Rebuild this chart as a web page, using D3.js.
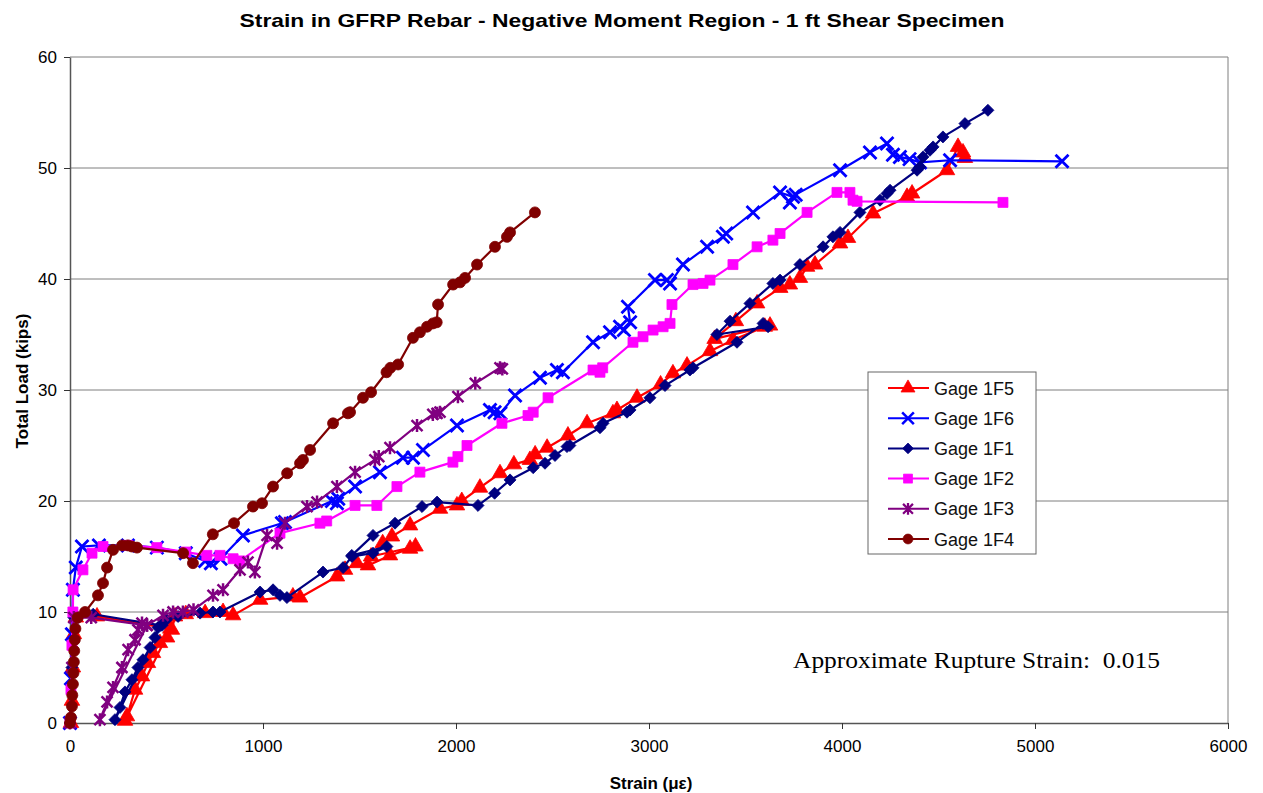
<!DOCTYPE html>
<html>
<head>
<meta charset="utf-8">
<script src="https://cdn.jsdelivr.net/npm/d3@7"></script>
<style>
  html, body { margin: 0; padding: 0; background: #fff; }
  svg { display: block; font-family: "Liberation Sans", Arial, sans-serif; }
</style>
</head>
<body>
<svg id="chart" width="1263" height="793"></svg>
<script>
// Strain (microstrain) vs total load (kips) for each gage, in recorded order.
const gage1F5 = [[5,0],[10,2],[15,5],[20,8],[30,9.5],[140,9.6],[520,8.5],[285,0.2],[295,0.6],[337,3],[373,4.2],[404,5.4],[430,6.3],[466,7.2],[503,7.7],[528,8.4],[544,9.6],[600,9.8],[700,9.9],[793,10],[845,9.7],[985,11.1],[1155,11.4],[1192,11.3],[1383,13.2],[1425,13.8],[1487,14.4],[1544,14.2],[1658,15.1],[1762,15.7],[1790,15.9],[1560,15.0],[1620,16.2],[1668,16.8],[1762,17.8],[1917,19.3],[2005,19.6],[2030,20],[2124,21.2],[2228,22.5],[2300,23.3],[2383,23.7],[2410,24.2],[2472,24.8],[2580,25.9],[2679,27],[2813,27.9],[2834,28.2],[2938,29.3],[3060,30.5],[3124,31.5],[3197,32.2],[3316,33.5],[3435,34.5],[3600,35.7],[3627,35.8],[3340,34.6],[3450,36.2],[3560,37.8],[3680,39.2],[3730,39.5],[3782,40.1],[3819,41.1],[3860,41.3],[3990,43.2],[4031,43.7],[4161,45.9],[4337,47.4],[4363,47.7],[4544,49.8],[4601,51.9],[4627,51.4],[4637,50.9]];
const gage1F6 = [[0,0],[5,4],[10,8],[15,12],[30,14],[62,15.9],[150,16],[300,16],[450,15.8],[600,15.3],[700,14.6],[730,14.4],[780,14.8],[896,16.9],[1098,18],[1114,18.1],[1357,20],[1383,19.8],[1390,20.2],[1477,21.3],[1606,22.6],[1725,23.9],[1777,23.9],[1829,24.6],[2005,26.8],[2176,28.2],[2200,28],[2230,27.9],[2306,29.5],[2435,31.1],[2523,31.8],[2554,31.6],[2710,34.3],[2798,35.2],[2850,35.7],[2870,35.4],[2902,36.1],[2891,37.5],[3031,39.9],[3093,39.9],[3109,39.6],[3176,41.3],[3301,42.9],[3383,43.8],[3400,44.1],[3539,46],[3679,47.8],[3746,47.4],[3730,46.9],[3760,47.6],[3990,49.8],[4145,51.4],[4233,52.2],[4264,51.2],[4300,51],[4350,50.8],[4404,50.5],[4560,50.7],[5140,50.6]];
const gage1F1 = [[0,0],[10,5],[20,9.5],[120,9.8],[470,8.8],[233,0.3],[259,1.4],[285,2.8],[321,3.9],[352,5],[378,5.7],[415,6.8],[440,7.7],[456,8.6],[477,8.8],[500,9.3],[560,9.6],[674,9.9],[741,10],[777,10],[985,11.8],[1052,12],[1088,11.5],[1124,11.3],[1311,13.6],[1415,14],[1461,15],[1570,15.3],[1642,15.9],[1460,15.1],[1570,16.9],[1684,18],[1824,19.5],[1902,19.9],[2114,19.6],[2200,20.7],[2280,21.9],[2400,23],[2461,23.4],[2513,24.1],[2575,24.9],[2590,25],[2746,26.6],[2762,27],[2886,28],[2902,28.2],[3005,29.3],[3083,30.4],[3212,31.8],[3228,32],[3456,34.3],[3591,36],[3617,35.7],[3352,35],[3420,36.2],[3523,37.8],[3642,39.6],[3679,39.9],[3782,41.3],[3902,42.9],[3953,43.8],[3990,44.2],[4093,46],[4197,47.1],[4233,47.7],[4249,48],[4389,49.8],[4404,50.1],[4420,51],[4456,51.6],[4472,51.9],[4523,52.8],[4637,54],[4756,55.2]];
const gage1F2 = [[0,0],[5,3],[10,7],[15,10],[16,12],[67,13.8],[114,15.3],[171,15.9],[300,16],[450,15.8],[600,15.4],[709,15.1],[777,15.1],[845,14.8],[880,14.6],[1088,17.1],[1295,18],[1330,18.2],[1477,19.6],[1590,19.6],[1694,21.3],[1813,22.6],[1984,23.5],[2010,24],[2057,25],[2238,27],[2373,27.7],[2400,28],[2477,29.3],[2710,31.8],[2746,31.6],[2760,32],[2917,34.3],[2969,34.8],[3021,35.4],[3073,35.7],[3109,36],[3119,37.7],[3228,39.5],[3280,39.6],[3316,39.9],[3435,41.3],[3560,42.9],[3642,43.5],[3679,44.1],[3819,46],[3974,47.8],[4041,47.8],[4057,47.1],[4078,47],[4834,46.9]];
const gage1F3 = [[0,0],[10,5],[20,9.5],[110,9.5],[399,8.8],[155,0.3],[192,1.9],[223,3.2],[269,5],[301,6.6],[337,7.5],[352,8.4],[373,9],[399,8.8],[482,9.7],[534,10],[585,10],[640,10.2],[741,11.5],[793,12],[881,13.8],[922,14.5],[958,13.6],[1021,16.9],[1073,16.2],[1114,18],[1228,19.5],[1280,19.9],[1383,21.3],[1477,22.6],[1580,23.7],[1600,24],[1658,24.8],[1798,26.8],[1880,27.8],[1902,27.9],[1917,28],[2010,29.4],[2100,30.6],[2228,32],[2240,31.9]];
const gage1F4 = [[0,0],[5,0.5],[10,1.5],[12,2.5],[15,3.5],[18,4.5],[20,5.5],[22,6.5],[25,7.5],[28,8.5],[40,9.5],[78,10],[145,11.5],[171,12.6],[192,14],[223,15.6],[270,16],[300,16],[321,15.9],[347,15.8],[586,15.3],[637,14.4],[740,17],[850,18],[948,19.5],[995,19.8],[1052,21.3],[1125,22.5],[1192,23.4],[1207,23.7],[1244,24.6],[1363,27],[1440,27.9],[1451,28],[1518,29.3],[1560,29.8],[1640,31.6],[1660,32],[1700,32.3],[1777,34.7],[1813,35.2],[1850,35.7],[1881,36],[1900,36.1],[1907,37.7],[1985,39.5],[2021,39.7],[2047,40.1],[2109,41.3],[2202,42.9],[2264,43.8],[2280,44.2],[2409,46]];

const seriesNames = ["Gage 1F5", "Gage 1F6", "Gage 1F1", "Gage 1F2", "Gage 1F3", "Gage 1F4"];
const seriesData = [gage1F5, gage1F6, gage1F1, gage1F2, gage1F3, gage1F4];
const seriesColors = ["#ff0000", "#0000ff", "#000080", "#ff00ff", "#800080", "#800000"];
const seriesMarkers = ["triangle", "cross", "diamond", "square", "star", "circle"];

const xTicks = [0, 1000, 2000, 3000, 4000, 5000, 6000];
const yTicks = [0, 10, 20, 30, 40, 50, 60];

const titleText = "Strain in GFRP Rebar - Negative Moment Region - 1 ft Shear Specimen";
const xTitle = "Strain (\u03bc\u03b5)";
const yTitle = "Total Load (kips)";
const noteText = "Approximate Rupture Strain:  0.015";

const svg = d3.select("#chart");
const plot = { left: 70, right: 1228, top: 57, bottom: 723 };

const x = d3.scaleLinear().domain([0, 6000]).range([plot.left, plot.right]);
const y = d3.scaleLinear().domain([0, 60]).range([plot.bottom, plot.top]);

// Horizontal gridlines
svg.append("g")
  .selectAll("line")
  .data(yTicks.slice(1))
  .join("line")
  .attr("x1", plot.left).attr("x2", plot.right)
  .attr("y1", d => y(d)).attr("y2", d => y(d))
  .attr("stroke", "#7f7f7f").attr("stroke-width", 1);

// Right-hand border of the plot area
svg.append("line")
  .attr("x1", plot.right).attr("x2", plot.right)
  .attr("y1", plot.top).attr("y2", plot.bottom)
  .attr("stroke", "#7f7f7f").attr("stroke-width", 1);

// Axes
const xAxis = svg.append("g")
  .attr("transform", `translate(0,${plot.bottom})`)
  .call(d3.axisBottom(x).tickValues(xTicks).tickFormat(d3.format("d"))
    .tickSize(6).tickSizeOuter(0).tickPadding(11));
const yAxis = svg.append("g")
  .attr("transform", `translate(${plot.left},0)`)
  .call(d3.axisLeft(y).tickValues(yTicks).tickFormat(d3.format("d"))
    .tickSize(6).tickSizeOuter(0).tickPadding(7));

[xAxis, yAxis].forEach(a => {
  a.select(".domain").attr("stroke", "#555").attr("stroke-width", 1.5);
  a.selectAll(".tick line").attr("stroke", "#333");
  a.selectAll(".tick text")
    .attr("fill", "#000")
    .style("font-family", "'Liberation Sans', Arial, sans-serif")
    .style("font-size", "17px");
});

// Marker shapes
const markerPath = {
  triangle: d3.symbol(d3.symbolTriangle, 105)(),
  square: d3.symbol(d3.symbolSquare, 100)(),
  circle: d3.symbol(d3.symbolCircle, 95)(),
  diamond: "M0,-6L6,0L0,6L-6,0Z",
  cross: "M-6.5,-6.5L6.5,6.5M-6.5,6.5L6.5,-6.5",
  star: "M-5.5,-5.5L5.5,5.5M-5.5,5.5L5.5,-5.5M0,-6.5L0,6.5"
};
const strokedMarker = { cross: 2.8, star: 2.5 };

function drawMarker(sel, kind, color) {
  sel.append("path")
    .attr("d", markerPath[kind])
    .attr("fill", strokedMarker[kind] ? "none" : color)
    .attr("stroke", color)
    .attr("stroke-width", strokedMarker[kind] || 0.8);
}

const line = d3.line().x(d => x(d[0])).y(d => y(d[1]));

seriesData.forEach((data, i) => {
  const g = svg.append("g").attr("class", "series");
  g.append("path")
    .datum(data)
    .attr("d", line)
    .attr("fill", "none")
    .attr("stroke", seriesColors[i])
    .attr("stroke-width", 2.2)
    .attr("stroke-linejoin", "round");
  g.selectAll("g.pt")
    .data(data)
    .join("g")
    .attr("class", "pt")
    .attr("transform", d => `translate(${x(d[0])},${y(d[1])})`)
    .each(function () { drawMarker(d3.select(this), seriesMarkers[i], seriesColors[i]); });
});

// Legend
const legend = svg.append("g").attr("transform", "translate(868,372)");
legend.append("rect")
  .attr("width", 168).attr("height", 182)
  .attr("fill", "#fff").attr("stroke", "#666").attr("stroke-width", 1);
seriesNames.forEach((name, i) => {
  const row = legend.append("g").attr("transform", `translate(0,${16 + i * 30.2})`);
  row.append("line")
    .attr("x1", 20).attr("x2", 61)
    .attr("stroke", seriesColors[i]).attr("stroke-width", 2);
  drawMarker(row.append("g").attr("transform", "translate(40,0) scale(0.9)"), seriesMarkers[i], seriesColors[i]);
  row.append("text")
    .attr("x", 66).attr("y", 6.5)
    .style("font-size", "18px")
    .attr("fill", "#111")
    .text(name);
});

// Titles
svg.append("text")
  .attr("x", 622).attr("y", 27)
  .attr("text-anchor", "middle")
  .style("font-size", "19px").style("font-weight", "bold")
  .attr("textLength", 765).attr("lengthAdjust", "spacingAndGlyphs")
  .text(titleText);

svg.append("text")
  .attr("x", 651).attr("y", 789)
  .attr("text-anchor", "middle")
  .style("font-size", "17px").style("font-weight", "bold")
  .text(xTitle);

svg.append("text")
  .attr("transform", "translate(28,381) rotate(-90)")
  .attr("text-anchor", "middle")
  .style("font-size", "17px").style("font-weight", "bold")
  .text(yTitle);

// Annotation
svg.append("text")
  .attr("x", 793).attr("y", 668)
  .style("font-family", "'Liberation Serif', 'Times New Roman', serif")
  .style("font-size", "23px")
  .style("white-space", "pre")
  .attr("textLength", 367).attr("lengthAdjust", "spacingAndGlyphs")
  .text(noteText);
</script>
</body>
</html>
